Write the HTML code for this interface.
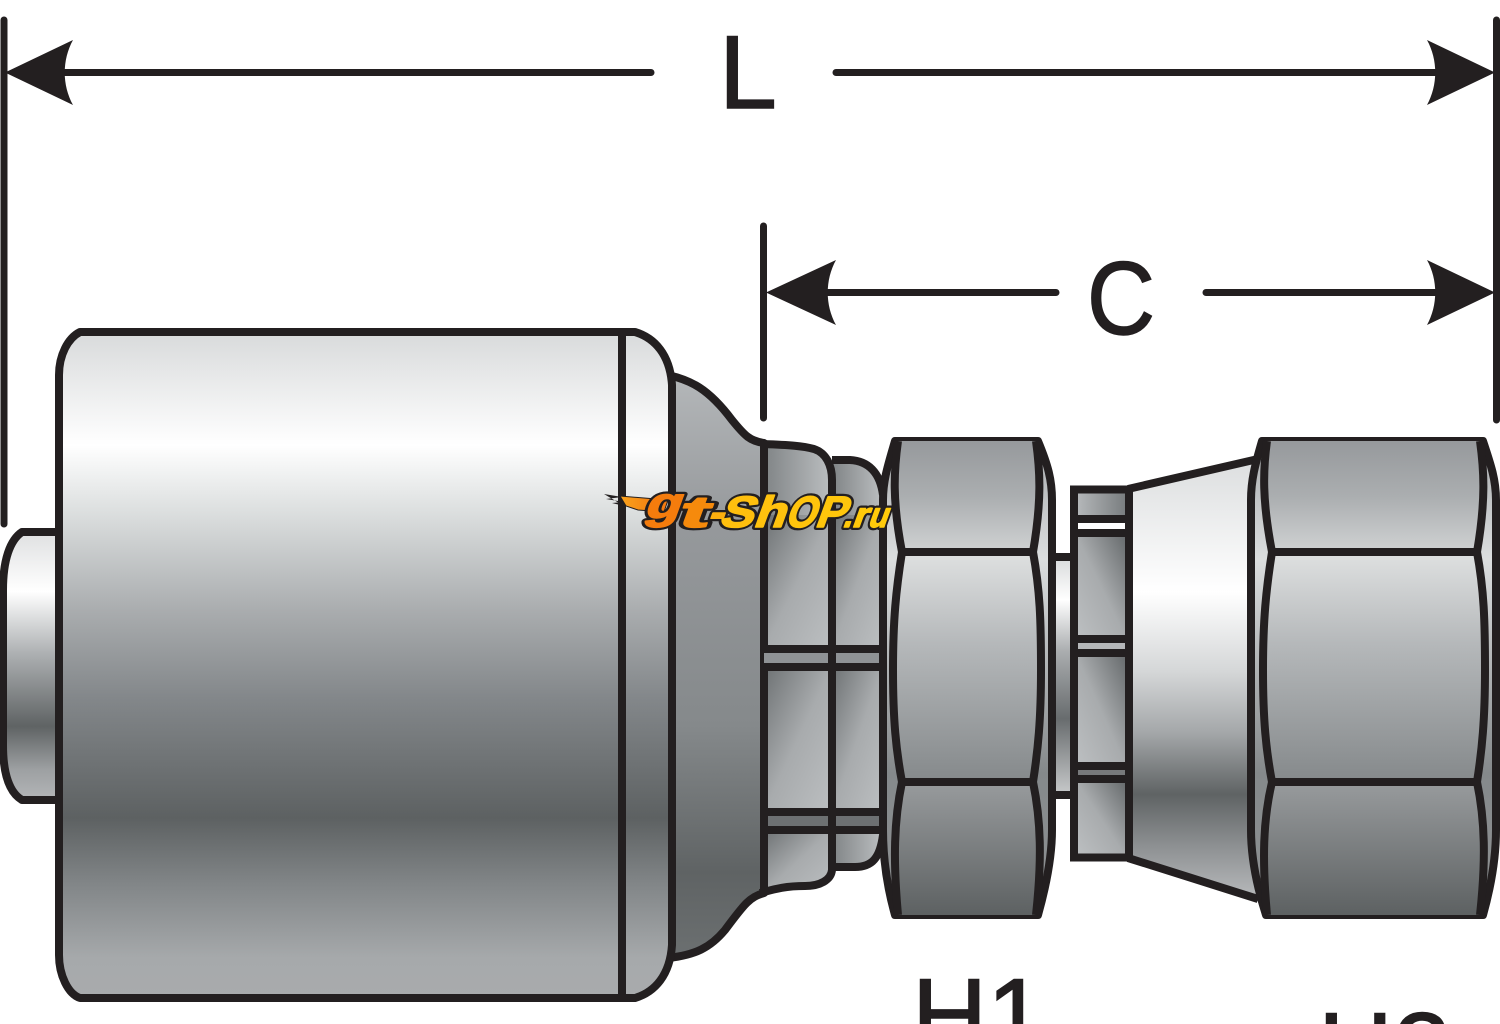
<!DOCTYPE html>
<html>
<head>
<meta charset="utf-8">
<style>
html,body{margin:0;padding:0;background:#fff;width:1500px;height:1024px;overflow:hidden}
svg{display:block}
text{font-family:"Liberation Sans",sans-serif}
</style>
</head>
<body>
<svg width="1500" height="1024" viewBox="0 0 1500 1024" xmlns="http://www.w3.org/2000/svg">
<defs>
<linearGradient id="body" gradientUnits="userSpaceOnUse" x1="0" y1="332" x2="0" y2="998">
<stop offset="0" stop-color="#d8dadb"/><stop offset=".17" stop-color="#ffffff"/><stop offset=".27" stop-color="#dcdfdf"/><stop offset=".42" stop-color="#a9acae"/><stop offset=".55" stop-color="#83878a"/><stop offset=".73" stop-color="#5d6162"/><stop offset=".83" stop-color="#828688"/><stop offset=".94" stop-color="#a6a9ab"/><stop offset="1" stop-color="#a9abad"/>
</linearGradient>
<linearGradient id="stub" gradientUnits="userSpaceOnUse" x1="0" y1="532" x2="0" y2="802">
<stop offset="0" stop-color="#dfe0e1"/><stop offset=".22" stop-color="#ffffff"/><stop offset=".45" stop-color="#adb0b2"/><stop offset=".72" stop-color="#5f6364"/><stop offset=".88" stop-color="#9da0a2"/><stop offset="1" stop-color="#b5b7b9"/>
</linearGradient>
<linearGradient id="bell" gradientUnits="userSpaceOnUse" x1="0" y1="375" x2="0" y2="960">
<stop offset="0" stop-color="#b4b7b9"/><stop offset=".25" stop-color="#96999c"/><stop offset=".6" stop-color="#85898b"/><stop offset=".85" stop-color="#5f6364"/><stop offset="1" stop-color="#6c7071"/>
</linearGradient>
<linearGradient id="d1" gradientUnits="objectBoundingBox" x1="0" y1="0" x2="1" y2="1">
<stop offset="0" stop-color="#6d7173"/><stop offset=".5" stop-color="#a8abad"/><stop offset="1" stop-color="#bcbfc1"/>
</linearGradient>
<linearGradient id="d2" gradientUnits="objectBoundingBox" x1="0" y1="0" x2="1" y2="0">
<stop offset="0" stop-color="#808486"/><stop offset="1" stop-color="#bcbfc1"/>
</linearGradient>
<linearGradient id="d3" gradientUnits="objectBoundingBox" x1="1" y1="0" x2="0" y2="1">
<stop offset="0" stop-color="#686c6e"/><stop offset=".5" stop-color="#a8abad"/><stop offset="1" stop-color="#bcbfc1"/>
</linearGradient>
<linearGradient id="d4" gradientUnits="objectBoundingBox" x1="0" y1="0" x2="1" y2="0">
<stop offset="0" stop-color="#b5b8ba"/><stop offset="1" stop-color="#7a7e80"/>
</linearGradient>
<linearGradient id="hexTop" gradientUnits="userSpaceOnUse" x1="0" y1="441" x2="0" y2="552">
<stop offset="0" stop-color="#96999c"/><stop offset=".5" stop-color="#abaeb0"/><stop offset="1" stop-color="#d0d2d3"/>
</linearGradient>
<linearGradient id="hexMid" gradientUnits="userSpaceOnUse" x1="0" y1="552" x2="0" y2="782">
<stop offset="0" stop-color="#dfe1e1"/><stop offset=".4" stop-color="#b5b8ba"/><stop offset="1" stop-color="#85898b"/>
</linearGradient>
<linearGradient id="hexBot" gradientUnits="userSpaceOnUse" x1="0" y1="782" x2="0" y2="915">
<stop offset="0" stop-color="#989b9d"/><stop offset="1" stop-color="#5d6162"/>
</linearGradient>
<linearGradient id="side" gradientUnits="userSpaceOnUse" x1="0" y1="441" x2="0" y2="915">
<stop offset="0" stop-color="#a8abad"/><stop offset=".25" stop-color="#dcdedf"/><stop offset=".7" stop-color="#85898b"/><stop offset="1" stop-color="#8f9294"/>
</linearGradient>
<linearGradient id="neck" gradientUnits="userSpaceOnUse" x1="0" y1="557" x2="0" y2="795">
<stop offset="0" stop-color="#d8dadb"/><stop offset=".18" stop-color="#ffffff"/><stop offset=".4" stop-color="#a9acae"/><stop offset=".68" stop-color="#686c6e"/><stop offset="1" stop-color="#c8cacb"/>
</linearGradient>
<linearGradient id="cone" gradientUnits="userSpaceOnUse" x1="0" y1="460" x2="0" y2="900">
<stop offset="0" stop-color="#dcdedf"/><stop offset=".3" stop-color="#ffffff"/><stop offset=".48" stop-color="#d5d7d8"/><stop offset=".62" stop-color="#a4a7a9"/><stop offset=".76" stop-color="#5f6364"/><stop offset=".88" stop-color="#8e9193"/><stop offset="1" stop-color="#b9bbbd"/>
</linearGradient>
<linearGradient id="streak" gradientUnits="userSpaceOnUse" x1="622" y1="0" x2="660" y2="0">
<stop offset="0" stop-color="#f9a01b"/><stop offset="1" stop-color="#f47a10"/>
</linearGradient>
</defs>

<!-- stub -->
<path d="M60 532H22C10 540 3 560 3 590V745C3 775 10 793 22 800H60Z" fill="url(#stub)" stroke="#231f20" stroke-width="8" stroke-linejoin="round"/>

<!-- bell -->
<path d="M668 375C690 380 708 388 732 420C745 436 750 441 764 443V893C750 897 745 903 725 930C710 948 695 955 668 958Z" fill="url(#bell)" stroke="#231f20" stroke-width="8" stroke-linejoin="round"/>

<!-- shell parts -->
<rect x="764" y="649" width="119" height="18" fill="#8f9295"/>
<rect x="764" y="812" width="119" height="18" fill="#6d7072"/>
<path d="M832 460H850C868 461 880 472 883 495V515H832Z" fill="url(#d2)"/>
<rect x="832" y="515" width="51" height="135" fill="url(#d1)"/>
<rect x="832" y="667" width="51" height="145" fill="url(#d1)"/>
<path d="M832 830H883V835C880 858 872 867 855 867H832Z" fill="url(#d2)"/>
<path d="M764 445C790 445 800 446 812 449C826 453 831 465 832 480V515H764Z" fill="url(#d2)"/>
<rect x="764" y="515" width="68" height="134" fill="url(#d1)"/>
<rect x="764" y="667" width="68" height="145" fill="url(#d1)"/>
<path d="M764 830H832V860C831 880 820 888 805 888C785 888 775 890 764 893Z" fill="url(#d1)"/>
<g fill="none" stroke="#231f20" stroke-width="8" stroke-linejoin="round" stroke-linecap="butt">
<path d="M763 444C790 445 803 446 814 449C826 453 832 465 832 480V870C831 880 820 886 805 886C785 886 775 889 760 893"/>
<path d="M832 460H850C868 461 880 472 883 495M832 867H855C872 867 880 858 883 835"/>
<path d="M764 443V649H883M764 893V667H883M764 812H883M764 830H883"/>
</g>

<!-- main body -->
<path d="M80 332H635C655 338 670 355 672 385V945C670 975 655 992 635 998H80C68 994 59 975 59 955V375C59 355 68 338 80 332Z" fill="url(#body)" stroke="#231f20" stroke-width="8" stroke-linejoin="round"/>
<path d="M622 332V998" stroke="#231f20" stroke-width="8" fill="none"/>

<!-- neck -->
<rect x="1052" y="557" width="22" height="238" fill="url(#neck)"/>
<path d="M1052 557H1074M1052 795H1074" stroke="#231f20" stroke-width="8"/>

<!-- hex 1 -->
<path d="M895 441H1038C1048 465 1052 480 1052 500V830C1052 860 1045 890 1038 915H895C888 890 883 860 883 830V500C883 480 888 465 895 441Z" fill="url(#side)" stroke="#231f20" stroke-width="8" stroke-linejoin="round"/>
<path d="M898 441H1036C1039 470 1040 500 1033 552H902C893 500 895 470 898 441Z" fill="url(#hexTop)"/>
<path d="M902 552H1033C1040 590 1041 620 1041 670C1041 720 1038 750 1033 782H902C896 750 893 720 893 670C893 620 896 590 902 552Z" fill="url(#hexMid)"/>
<path d="M902 782H1033C1041 820 1040 860 1036 915H898C893 860 894 820 902 782Z" fill="url(#hexBot)"/>
<g fill="none" stroke="#231f20" stroke-width="8" stroke-linejoin="round">
<path d="M898 441C894 470 892 500 902 552C896 590 893 620 893 670C893 720 896 750 902 782C894 820 893 860 898 915"/>
<path d="M1036 441C1040 470 1042 500 1033 552C1040 590 1041 620 1041 670C1041 720 1038 750 1033 782C1041 820 1042 860 1036 915"/>
<path d="M900 552H1035M900 782H1035"/>
</g>

<!-- cone -->
<path d="M1128 489L1258 459V900L1128 858Z" fill="url(#cone)"/>
<path d="M1128 489L1258 459M1128 858L1258 899" stroke="#231f20" stroke-width="8" fill="none"/>

<!-- collar -->
<rect x="1074" y="490" width="55" height="368" fill="#a5a8aa"/>
<rect x="1077" y="492" width="48" height="27" fill="url(#d4)"/>
<rect x="1077" y="522" width="48" height="8" fill="#ffffff"/>
<rect x="1077" y="536" width="48" height="100" fill="url(#d3)"/>
<rect x="1077" y="642" width="48" height="8" fill="#b5b7b9"/>
<rect x="1077" y="656" width="48" height="108" fill="url(#d3)"/>
<rect x="1077" y="769" width="48" height="7" fill="#77797b"/>
<rect x="1077" y="782" width="48" height="73" fill="url(#d3)"/>
<g fill="none" stroke="#231f20" stroke-width="8">
<rect x="1074" y="489.500" width="55" height="368"/>
<path d="M1074 519H1129M1074 533H1129M1074 639H1129M1074 653H1129M1074 766H1129M1074 779H1129"/>
</g>

<!-- hex 2 -->
<path d="M1262 441H1483C1491 465 1496 480 1496 500V830C1496 860 1490 890 1483 915H1266C1258 890 1251 860 1251 830V500C1251 480 1255 465 1262 441Z" fill="url(#side)" stroke="#231f20" stroke-width="8" stroke-linejoin="round"/>
<path d="M1267 441H1480C1483 470 1484 500 1477 552H1272C1263 500 1264 470 1267 441Z" fill="url(#hexTop)"/>
<path d="M1272 552H1477C1484 590 1485 620 1485 670C1485 720 1482 750 1477 782H1272C1266 750 1263 720 1263 670C1263 620 1266 590 1272 552Z" fill="url(#hexMid)"/>
<path d="M1272 782H1477C1485 820 1484 860 1480 915H1267C1262 860 1263 820 1272 782Z" fill="url(#hexBot)"/>
<g fill="none" stroke="#231f20" stroke-width="8" stroke-linejoin="round">
<path d="M1267 441C1263 470 1262 500 1272 552C1266 590 1263 620 1263 670C1263 720 1266 750 1272 782C1263 820 1262 860 1267 915"/>
<path d="M1480 441C1484 470 1486 500 1477 552C1484 590 1485 620 1485 670C1485 720 1482 750 1477 782C1485 820 1486 860 1480 915"/>
<path d="M1270 552H1479M1270 782H1479"/>
</g>

<!-- dimension lines -->
<g stroke="#231f20" stroke-width="7" stroke-linecap="round" fill="none">
<path d="M4 20V524"/>
<path d="M1496.500 20V420"/>
<path d="M763.500 226V418"/>
<path d="M60 72.500H651M836 72.500H1440"/>
<path d="M825 292.500H1056M1206 292.500H1440"/>
</g>
<g fill="#231f20">
<path d="M5 72.500L73 40C62 60 62 85 73 105Z"/>
<path d="M1495 72.500L1427 40C1438 60 1438 85 1427 105Z"/>
<path d="M766 292.500L836 260C825 280 825 305 836 325Z"/>
<path d="M1495 292.500L1427 260C1438 280 1438 305 1427 325Z"/>
</g>

<!-- labels -->
<g fill="#231f20" stroke="#231f20" stroke-width="1.500" font-size="104">
<text x="719" y="108">L</text>
<text x="1087" y="334" textLength="68" lengthAdjust="spacingAndGlyphs">C</text>
<text x="912" y="1051">H1</text>
<text x="1318" y="1085">H2</text>
</g>

<!-- watermark -->
<g>
<path d="M604 494L622 497L606 499L624 502L612 503L624 506Z" fill="#231f20"/>
<path d="M620 496L668 500L664 512L638 510L626 506Z" fill="url(#streak)" stroke="#231f20" stroke-width="1"/>
<g font-weight="bold" stroke="#231f20" stroke-width="6" stroke-linejoin="round" fill="#231f20">
<text transform="translate(643 518) skewX(-20)" font-size="44" textLength="36" lengthAdjust="spacingAndGlyphs">g</text>
<text transform="translate(676 527) skewX(-20)" font-size="44" textLength="30" lengthAdjust="spacingAndGlyphs">t</text>
<text transform="translate(706 527) skewX(-20)" font-size="44" textLength="16" lengthAdjust="spacingAndGlyphs">-</text>
<text transform="translate(718 527) skewX(-20)" font-size="44" textLength="34" lengthAdjust="spacingAndGlyphs">S</text>
<text transform="translate(752 527) skewX(-20)" font-size="44" textLength="32" lengthAdjust="spacingAndGlyphs">h</text>
<text transform="translate(784 527) skewX(-20)" font-size="44" textLength="30" lengthAdjust="spacingAndGlyphs">O</text>
<text transform="translate(814 527) skewX(-20)" font-size="44" textLength="30" lengthAdjust="spacingAndGlyphs">P</text>
<text transform="translate(842 527) skewX(-20)" font-size="35" textLength="9" lengthAdjust="spacingAndGlyphs">.</text>
<text transform="translate(851 527) skewX(-20)" font-size="35" textLength="15" lengthAdjust="spacingAndGlyphs">r</text>
<text transform="translate(867 527) skewX(-20)" font-size="35" textLength="19" lengthAdjust="spacingAndGlyphs">u</text>
</g>
<g font-weight="bold" stroke-width="1.500" stroke-linejoin="round">
<text transform="translate(643 518) skewX(-20)" font-size="44" textLength="36" lengthAdjust="spacingAndGlyphs" fill="#f57c0d" stroke="#f57c0d">g</text>
<text transform="translate(676 527) skewX(-20)" font-size="44" textLength="30" lengthAdjust="spacingAndGlyphs" fill="#f68a0c" stroke="#f68a0c">t</text>
<text transform="translate(706 527) skewX(-20)" font-size="44" textLength="16" lengthAdjust="spacingAndGlyphs" fill="#fbae0e" stroke="#fbae0e">-</text>
<text transform="translate(718 527) skewX(-20)" font-size="44" textLength="34" lengthAdjust="spacingAndGlyphs" fill="#ffbf0e" stroke="#ffbf0e">S</text>
<text transform="translate(752 527) skewX(-20)" font-size="44" textLength="32" lengthAdjust="spacingAndGlyphs" fill="#ffc20e" stroke="#ffc20e">h</text>
<text transform="translate(784 527) skewX(-20)" font-size="44" textLength="30" lengthAdjust="spacingAndGlyphs" fill="#ffc40c" stroke="#ffc40c">O</text>
<text transform="translate(814 527) skewX(-20)" font-size="44" textLength="30" lengthAdjust="spacingAndGlyphs" fill="#ffc60c" stroke="#ffc60c">P</text>
<text transform="translate(842 527) skewX(-20)" font-size="35" textLength="9" lengthAdjust="spacingAndGlyphs" fill="#ffc80a" stroke="#ffc80a">.</text>
<text transform="translate(851 527) skewX(-20)" font-size="35" textLength="15" lengthAdjust="spacingAndGlyphs" fill="#ffc80a" stroke="#ffc80a">r</text>
<text transform="translate(867 527) skewX(-20)" font-size="35" textLength="19" lengthAdjust="spacingAndGlyphs" fill="#ffca0a" stroke="#ffca0a">u</text>
</g>
</g>
</svg>
</body>
</html>
